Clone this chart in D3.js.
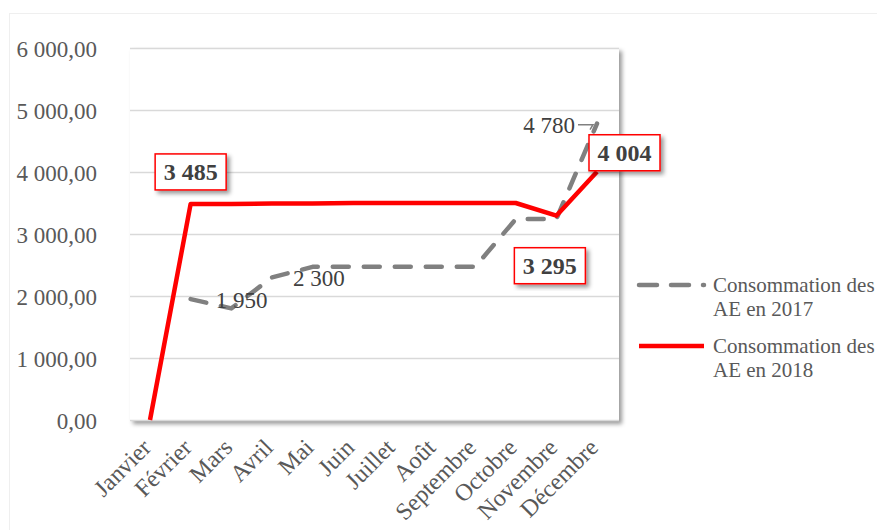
<!DOCTYPE html>
<html>
<head>
<meta charset="utf-8">
<script src="https://cdn.jsdelivr.net/npm/d3@7"></script>
<style>
  html, body { margin: 0; padding: 0; background: #ffffff; }
  svg { display: block; font-family: "Liberation Serif", "Times New Roman", serif; }
</style>
</head>
<body>
<svg id="chart" width="877" height="530"></svg>
<script>
// Monthly consumption of AE (autorisations d'engagement), 2017 vs 2018
const months = ["Janvier", "Février", "Mars", "Avril", "Mai", "Juin", "Juillet",
                "Août", "Septembre", "Octobre", "Novembre", "Décembre"];
const ae2017 = [null, 1950, 1800, 2300, 2470, 2470, 2470, 2470, 2470, 3240, 3240, 4780];
const ae2018 = [0, 3485, 3485, 3490, 3490, 3500, 3500, 3500, 3500, 3500, 3295, 4004];
const yTicks = [0, 1000, 2000, 3000, 4000, 5000, 6000];
const seriesNames = ["Consommation des AE en 2017", "Consommation des AE en 2018"];

// Points carrying a value label
const labels2017 = [1, 3, 11];      // plain grey labels
const labels2018 = [1, 10, 11];     // boxed bold labels

const fr = d3.formatLocale({ decimal: ",", thousands: "\u00a0", grouping: [3], currency: ["", " €"] });
const fmtAxis = fr.format(",.2f");
const fmtVal = fr.format(",.0f");

const svg = d3.select("#chart");
const defs = svg.append("defs");
const shadow = defs.append("filter").attr("id", "shadow")
  .attr("x", "-10%").attr("y", "-10%").attr("width", "130%").attr("height", "130%");
shadow.append("feDropShadow").attr("dx", 3).attr("dy", 3).attr("stdDeviation", 2)
  .attr("flood-color", "#000").attr("flood-opacity", 0.4);

const plot = { left: 130, right: 619, top: 48, bottom: 421 };
const x = d3.scalePoint().domain(months).range([150, 597]);
const y = d3.scaleLinear().domain([0, 6000]).range([420, 48]);

// Outer chart frame
svg.append("rect").attr("x", 9.5).attr("y", 13.5).attr("width", 900).attr("height", 600)
  .attr("fill", "#fff").attr("stroke", "#efefef");

// Plot panel with shadow
svg.append("rect").attr("x", plot.left).attr("y", plot.top)
  .attr("width", plot.right - plot.left).attr("height", plot.bottom - plot.top)
  .attr("fill", "#fff").attr("filter", "url(#shadow)");

// Gridlines
svg.append("g").selectAll("line").data(yTicks).join("line")
  .attr("x1", plot.left).attr("x2", plot.right)
  .attr("y1", d => y(d) + 0.5).attr("y2", d => y(d) + 0.5)
  .attr("stroke", "#d9d9d9").attr("stroke-width", 1.5);

// Y axis
const yAxis = svg.append("g").attr("transform", "translate(97,0)")
  .call(d3.axisLeft(y).tickValues(yTicks).tickFormat(fmtAxis).tickSize(0).tickPadding(0));
yAxis.select(".domain").remove();
yAxis.selectAll("text").attr("fill", "#595959").attr("font-size", 23)
  .attr("font-family", "Liberation Serif, serif").attr("dy", "0.35em");

// X axis (rotated month names)
const xAxis = svg.append("g").attr("transform", "translate(0,421)")
  .call(d3.axisBottom(x).tickSize(0).tickPadding(0));
xAxis.select(".domain").remove();
xAxis.selectAll("text").attr("fill", "#595959").attr("font-size", 24)
  .attr("font-family", "Liberation Serif, serif")
  .attr("text-anchor", "end").attr("dy", 0).attr("y", 0)
  .attr("transform", "translate(2,28) rotate(-45)");

// Lines
const lineGen = d3.line().defined(d => d.v != null).x(d => x(d.m)).y(d => y(d.v));
const pts2017 = months.map((m, i) => ({ m, v: ae2017[i] }));
const pts2018 = months.map((m, i) => ({ m, v: ae2018[i] }));

svg.append("path").datum(pts2017).attr("d", lineGen)
  .attr("fill", "none").attr("stroke", "#808080").attr("stroke-width", 4.5)
  .attr("stroke-dasharray", "16,15").attr("stroke-linecap", "round")
  .attr("stroke-linejoin", "round");

svg.append("path").datum(pts2018).attr("d", lineGen)
  .attr("fill", "none").attr("stroke", "#ff0000").attr("stroke-width", 4.5)
  .attr("stroke-linejoin", "round");

// 2017 labels (grey, plain)
const g17 = svg.append("g").attr("font-size", 23).attr("fill", "#404040");
const lab17Offsets = { 1: [25, 9, "start"], 3: [21, 9, "start"], 11: [-22, 9, "end"] };
labels2017.forEach(i => {
  const [dx, dy, anchor] = lab17Offsets[i];
  g17.append("text").attr("x", x(months[i]) + dx).attr("y", y(ae2017[i]) + dy)
    .attr("text-anchor", anchor).text(fmtVal(ae2017[i]));
});
// leader line for the December label
svg.append("path")
  .attr("d", `M${x(months[11]) - 19},${y(ae2017[11]) + 1}H${x(months[11]) - 4}l-3,5`)
  .attr("fill", "none").attr("stroke", "#808080").attr("stroke-width", 1.5);

// 2018 labels (boxed, bold)
const boxW = 71, boxH = 36;
const lab18Pos = {
  1: [-35.5, -50],   // box left/top relative to point
  10: [-42, 32],
  11: [-8, -37]
};
labels2018.forEach(i => {
  const px = x(months[i]), py = y(ae2018[i]);
  const [ox, oy] = lab18Pos[i];
  const g = svg.append("g").attr("transform", `translate(${px + ox},${py + oy})`);
  g.append("rect").attr("width", boxW).attr("height", boxH)
    .attr("fill", "#fff").attr("stroke", "#ff0000").attr("stroke-width", 1.5)
    .attr("filter", "url(#shadow)");
  g.append("text").attr("x", boxW / 2).attr("y", boxH / 2 + 8)
    .attr("text-anchor", "middle").attr("font-size", 24).attr("font-weight", "bold")
    .attr("fill", "#404040").text(fmtVal(ae2018[i]));
});

// Legend
const legend = svg.append("g").attr("font-size", 21).attr("fill", "#595959");
const legItems = [
  { y: 285, stroke: "#808080", dash: "18,14", name: seriesNames[0] },
  { y: 346, stroke: "#ff0000", dash: null, name: seriesNames[1] }
];
legItems.forEach(it => {
  legend.append("line").attr("x1", 639).attr("x2", 704).attr("y1", it.y).attr("y2", it.y)
    .attr("stroke", it.stroke).attr("stroke-width", 4.5)
    .attr("stroke-linecap", it.dash ? "round" : "butt")
    .attr("stroke-dasharray", it.dash);
  const words = it.name.split(" ");
  const t = legend.append("text").attr("x", 713).attr("y", it.y + 7);
  t.append("tspan").attr("x", 713).text(words.slice(0, 2).join(" "));
  t.append("tspan").attr("x", 713).attr("dy", 24).text(words.slice(2).join(" "));
});
</script>
</body>
</html>
